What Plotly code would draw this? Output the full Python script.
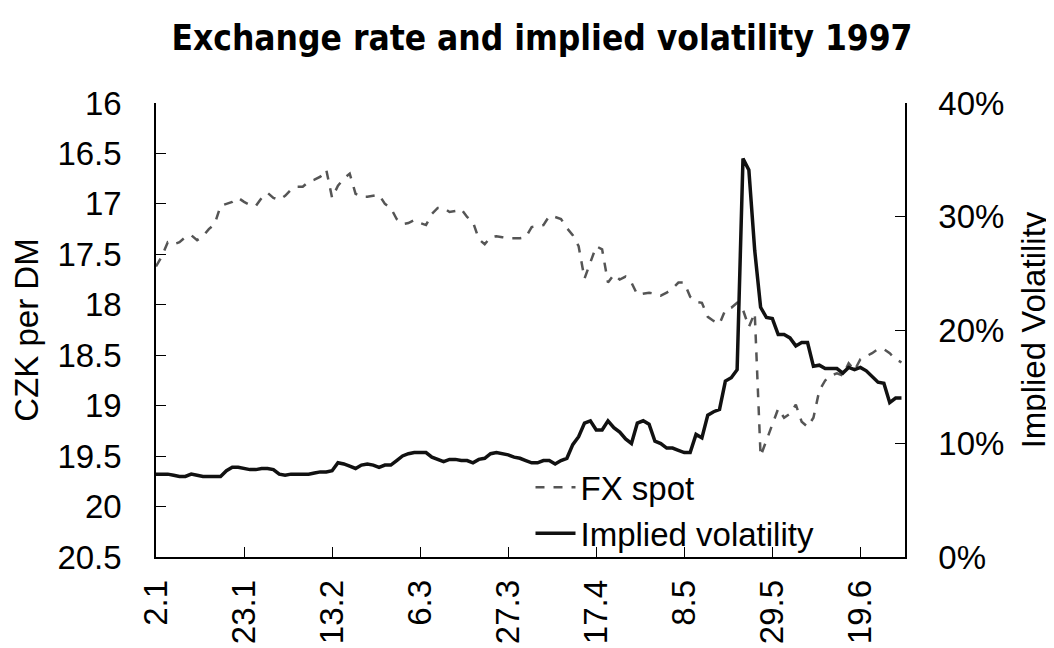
import pandas as pd
import plotly.graph_objects as go

# Trading days (all weekdays) from 2 Jan to 30 Jun 1997, labelled d.m
days = pd.bdate_range("1997-01-02", "1997-06-30")
dates = [f"{d.day}.{d.month}" for d in days]

fx_spot = [
    17.62, 17.52, 17.38, 17.40, 17.38, 17.33, 17.31, 17.36, 17.32, 17.25,
    17.20, 17.02, 17.00, 16.98, 16.94, 16.98, 17.01, 17.02, 16.94, 16.89,
    16.94, 16.96, 16.92, 16.86, 16.83, 16.83, 16.78, 16.76, 16.73, 16.66,
    16.94, 16.82, 16.75, 16.70, 16.90, 16.93, 16.93, 16.92, 16.91, 17.00,
    17.04, 17.15, 17.20, 17.19, 17.16, 17.19, 17.21, 17.10, 17.04, 17.04,
    17.08, 17.07, 17.05, 17.13, 17.18, 17.35, 17.40, 17.33, 17.32, 17.33,
    17.34, 17.34, 17.34, 17.33, 17.23, 17.22, 17.21, 17.12, 17.13, 17.15,
    17.24, 17.31, 17.42, 17.74, 17.58, 17.42, 17.45, 17.78, 17.70, 17.75,
    17.72, 17.78, 17.90, 17.89, 17.88, 17.89, 17.91, 17.88, 17.84, 17.78,
    17.78, 17.92, 17.97, 17.98, 18.12, 18.16, 18.19, 18.05, 18.03, 17.98,
    18.05, 18.22, 18.08, 19.50, 19.35, 19.20, 19.03, 19.12, 19.08, 18.99,
    19.16, 19.21, 19.12, 18.85, 18.75, 18.70, 18.68, 18.70, 18.58, 18.65,
    18.54, 18.51, 18.48, 18.44, 18.44, 18.48, 18.54, 18.57,
]

implied_vol = [
    7.3, 7.3, 7.3, 7.2, 7.1, 7.1, 7.3, 7.2, 7.1, 7.1,
    7.1, 7.1, 7.6, 7.9, 7.9, 7.8, 7.7, 7.7, 7.8, 7.8,
    7.7, 7.3, 7.2, 7.3, 7.3, 7.3, 7.3, 7.4, 7.5, 7.5,
    7.6, 8.3, 8.2, 8.0, 7.8, 8.1, 8.2, 8.1, 7.9, 8.1,
    8.1, 8.5, 8.9, 9.1, 9.2, 9.2, 9.2, 8.8, 8.6, 8.4,
    8.6, 8.6, 8.5, 8.5, 8.3, 8.6, 8.7, 9.1, 9.2, 9.1,
    9.0, 8.8, 8.7, 8.5, 8.3, 8.3, 8.5, 8.5, 8.2, 8.5,
    8.7, 9.9, 10.6, 11.8, 12.0, 11.2, 11.2, 12.0, 11.4, 11.0,
    10.4, 10.0, 11.8, 12.0, 11.7, 10.2, 10.0, 9.6, 9.6, 9.4,
    9.2, 9.2, 10.8, 10.5, 12.5, 12.8, 13.0, 15.5, 15.8, 16.5,
    35.1, 34.1, 27.0, 22.0, 21.1, 21.0, 19.6, 19.6, 19.3, 18.6,
    18.9, 18.9, 16.8, 16.9, 16.6, 16.6, 16.6, 16.2, 16.7, 16.5,
    16.7, 16.4, 15.9, 15.4, 15.3, 13.6, 14.0, 14.0,
]

tick_labels = dates[::15]

FONT = "Liberation Sans, Arial, sans-serif"
FS = 33

fig = go.Figure()
fig.add_trace(go.Scatter(
    x=dates, y=fx_spot, name="FX spot", mode="lines",
    line=dict(color="#555555", width=2.5, dash="dash"),
    yaxis="y",
))
fig.add_trace(go.Scatter(
    x=dates, y=implied_vol, name="Implied volatility", mode="lines",
    line=dict(color="#111111", width=3.5),
    yaxis="y2",
))

# page has an 8px body margin: figure drawn at (8,8)
fig.update_layout(
    width=1046, height=640,
    margin=dict(l=148, r=149, t=95, b=91),
    paper_bgcolor="white", plot_bgcolor="white",
    font=dict(family=FONT, size=FS, color="black"),
    title=dict(
        text="<b>Exchange rate and implied volatility 1997</b>",
        font=dict(family="DejaVu Sans Condensed, Liberation Sans Narrow, sans-serif", size=35, color="black"),
        x=534 / 1046, xref="container", xanchor="center",
        y=1 - 30 / 640, yref="container", yanchor="middle",
    ),
    showlegend=True,
    legend=dict(
        x=0.50, xanchor="left", y=0.215, yanchor="top",
        bgcolor="rgba(0,0,0,0)", font=dict(size=FS),
        tracegroupgap=0, itemwidth=40,
    ),
    xaxis=dict(
        type="category", categoryorder="array", categoryarray=dates,
        range=[0, 127.6], automargin=False,
        tickmode="array", tickvals=tick_labels, ticktext=tick_labels,
        tickangle=-90, ticks="inside", ticklen=10, tickcolor="black", tickwidth=1,
        showline=True, linecolor="black", linewidth=1.5, mirror=False,
        showgrid=False, zeroline=False, ticklabelstandoff=8,
        tickfont=dict(size=FS),
    ),
    yaxis=dict(
        range=[20.5, 16], tickmode="linear", tick0=16, dtick=0.5,
        automargin=False,
        ticks="inside", ticklen=10, tickcolor="black", tickwidth=1,
        showline=True, linecolor="black", linewidth=1.5,
        showgrid=False, zeroline=False, ticklabelstandoff=26,
        tickfont=dict(size=FS),
        title=dict(text="CZK per DM", font=dict(size=FS), standoff=20),
    ),
    yaxis2=dict(
        overlaying="y", side="right", anchor="x",
        range=[0, 40], tickmode="linear", tick0=0, dtick=10, ticksuffix="%",
        automargin=False,
        ticks="inside", ticklen=10, tickcolor="black", tickwidth=1,
        showline=True, linecolor="black", linewidth=1.5,
        showgrid=False, zeroline=False, ticklabelstandoff=25,
        tickfont=dict(size=FS),
        title=dict(text="Implied Volatility", font=dict(size=FS), standoff=18),
    ),
)

fig.write_html("out.html")
